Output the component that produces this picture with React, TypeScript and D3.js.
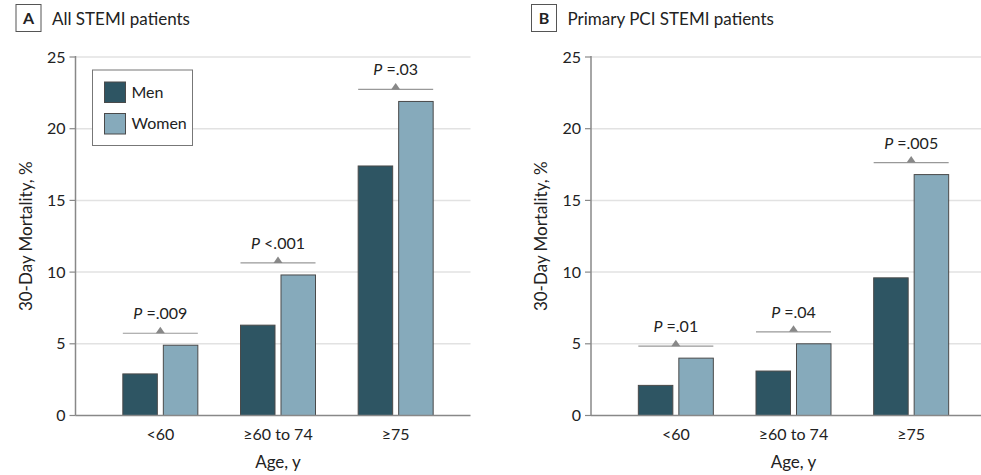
import React from "react";
import * as d3 from "d3";

const categories = ["<60", "≥60 to 74", "≥75"];
const seriesNames = ["Men", "Women"];
const allMen = [2.9, 6.3, 17.4];
const allWomen = [4.9, 9.8, 21.9];
const allP = [["=.009"], ["<.001"], ["=.03"]].map((d) => d[0]);
const pciMen = [2.1, 3.1, 9.6];
const pciWomen = [4.0, 5.0, 16.8];
const pciP = ["=.01", "=.04", "=.005"];
const yTicks = [0, 5, 10, 15, 20, 25];

const MEN_COLOR = "#2e5563";
const WOMEN_COLOR = "#86aabb";
const FONT = "Lato, 'Open Sans', sans-serif";
const TEXT = "#222";

type PanelProps = {
  axisX: number;
  letter: string;
  title: string;
  men: number[];
  women: number[];
  pvals: string[];
  legend: boolean;
};

function Panel({ axisX, letter, title, men, women, pvals, legend }: PanelProps) {
  const y = d3.scaleLinear().domain([0, 25]).range([415.5, 57]);
  const x = d3
    .scaleBand<string>()
    .domain(categories)
    .range([axisX + 26, axisX + 26 + 353])
    .padding(0);
  const sub = d3
    .scaleBand<string>()
    .domain(seriesNames)
    .range([-37.5, 37.5])
    .paddingInner(0.148)
    .paddingOuter(0);
  const right = axisX + 395;
  const midX = (x(categories[0])! + x(categories[2])! + x.bandwidth()) / 2;

  return (
    <g>
      {/* panel label */}
      <rect x={axisX - 59.5} y={4.5} width={25} height={27} fill="#fff" stroke="#555" strokeWidth={1} />
      <text x={axisX - 47} y={24} textAnchor="middle" fontSize={16} fontWeight="bold" fill={TEXT} fontFamily={FONT}>
        {letter}
      </text>
      <text x={axisX - 23.5} y={25} fontSize={17} fill={TEXT} fontFamily={FONT}>
        {title}
      </text>

      {/* gridlines */}
      {yTicks.filter((t) => t > 0).map((t) => (
        <line key={t} x1={axisX} x2={right} y1={y(t)} y2={y(t)} stroke="#e2e2e2" strokeWidth={1.5} />
      ))}

      {/* y ticks */}
      {yTicks.map((t) => (
        <g key={t}>
          <line x1={axisX - 6} x2={axisX} y1={y(t)} y2={y(t)} stroke="#888" strokeWidth={1.2} />
          <text x={axisX - 10} y={y(t)} dy="0.35em" textAnchor="end" fontSize={16} fill={TEXT} fontFamily={FONT}>
            {t}
          </text>
        </g>
      ))}

      {/* bars */}
      {categories.map((c, i) => {
        const cx = x(c)! + x.bandwidth() / 2;
        const vals = [men[i], women[i]];
        return (
          <g key={c}>
            {seriesNames.map((s, j) => (
              <rect
                key={s}
                x={cx + sub(s)!}
                y={y(vals[j])}
                width={sub.bandwidth()}
                height={y(0) - y(vals[j])}
                fill={j === 0 ? MEN_COLOR : WOMEN_COLOR}
                stroke="#4a4a4a"
                strokeWidth={1}
              />
            ))}
          </g>
        );
      })}

      {/* axes lines */}
      <line x1={axisX} x2={axisX} y1={y(25) - 1} y2={y(0)} stroke="#888" strokeWidth={1.5} />
      <line x1={axisX} x2={right} y1={y(0)} y2={y(0)} stroke="#888" strokeWidth={1.5} />

      {/* p-value annotations */}
      {categories.map((c, i) => {
        const cx = x(c)! + x.bandwidth() / 2;
        const top = y(Math.max(men[i], women[i]));
        const ly = top - 12;
        return (
          <g key={c}>
            <line x1={cx + sub("Men")!} x2={cx + sub("Women")! + sub.bandwidth()} y1={ly} y2={ly} stroke="#999" strokeWidth={1.2} />
            <path d={`M${cx - 4.5},${ly} L${cx + 4.5},${ly} L${cx},${ly - 6.5} Z`} fill="#888" />
            <text x={cx} y={ly - 14} textAnchor="middle" fontSize={16} fill={TEXT} fontFamily={FONT}>
              <tspan fontStyle="italic">P</tspan>
              <tspan> {pvals[i]}</tspan>
            </text>
          </g>
        );
      })}

      {/* x tick labels */}
      {categories.map((c) => (
        <text key={c} x={x(c)! + x.bandwidth() / 2} y={440} textAnchor="middle" fontSize={16} fill={TEXT} fontFamily={FONT}>
          {c}
        </text>
      ))}

      {/* axis titles */}
      <text x={midX} y={468} textAnchor="middle" fontSize={17} fill={TEXT} fontFamily={FONT}>
        Age, y
      </text>
      <text
        transform={`translate(${axisX - 44},${(y(0) + y(25)) / 2}) rotate(-90)`}
        textAnchor="middle"
        fontSize={17}
        fill={TEXT}
        fontFamily={FONT}
      >
        30-Day Mortality, %
      </text>

      {legend && (
        <g>
          <rect x={axisX + 17} y={70} width={100} height={75.5} fill="#fff" stroke="#777" strokeWidth={1} />
          {seriesNames.map((s, j) => (
            <g key={s}>
              <rect
                x={axisX + 29}
                y={82 + j * 31.5}
                width={21}
                height={20.5}
                fill={j === 0 ? MEN_COLOR : WOMEN_COLOR}
                stroke="#4a4a4a"
                strokeWidth={1}
              />
              <text x={axisX + 56} y={97.5 + j * 31.5} fontSize={16} fill={TEXT} fontFamily={FONT}>
                {s}
              </text>
            </g>
          ))}
        </g>
      )}
    </g>
  );
}

export default function App() {
  return (
    <svg
      width={981}
      height={475}
      style={{ position: "absolute", left: 0, top: 0, background: "#fff" }}
    >
      <rect width={981} height={475} fill="#fff" />
      <Panel axisX={75.5} letter="A" title="All STEMI patients" men={allMen} women={allWomen} pvals={allP} legend={true} />
      <Panel axisX={591} letter="B" title="Primary PCI STEMI patients" men={pciMen} women={pciWomen} pvals={pciP} legend={false} />
    </svg>
  );
}
